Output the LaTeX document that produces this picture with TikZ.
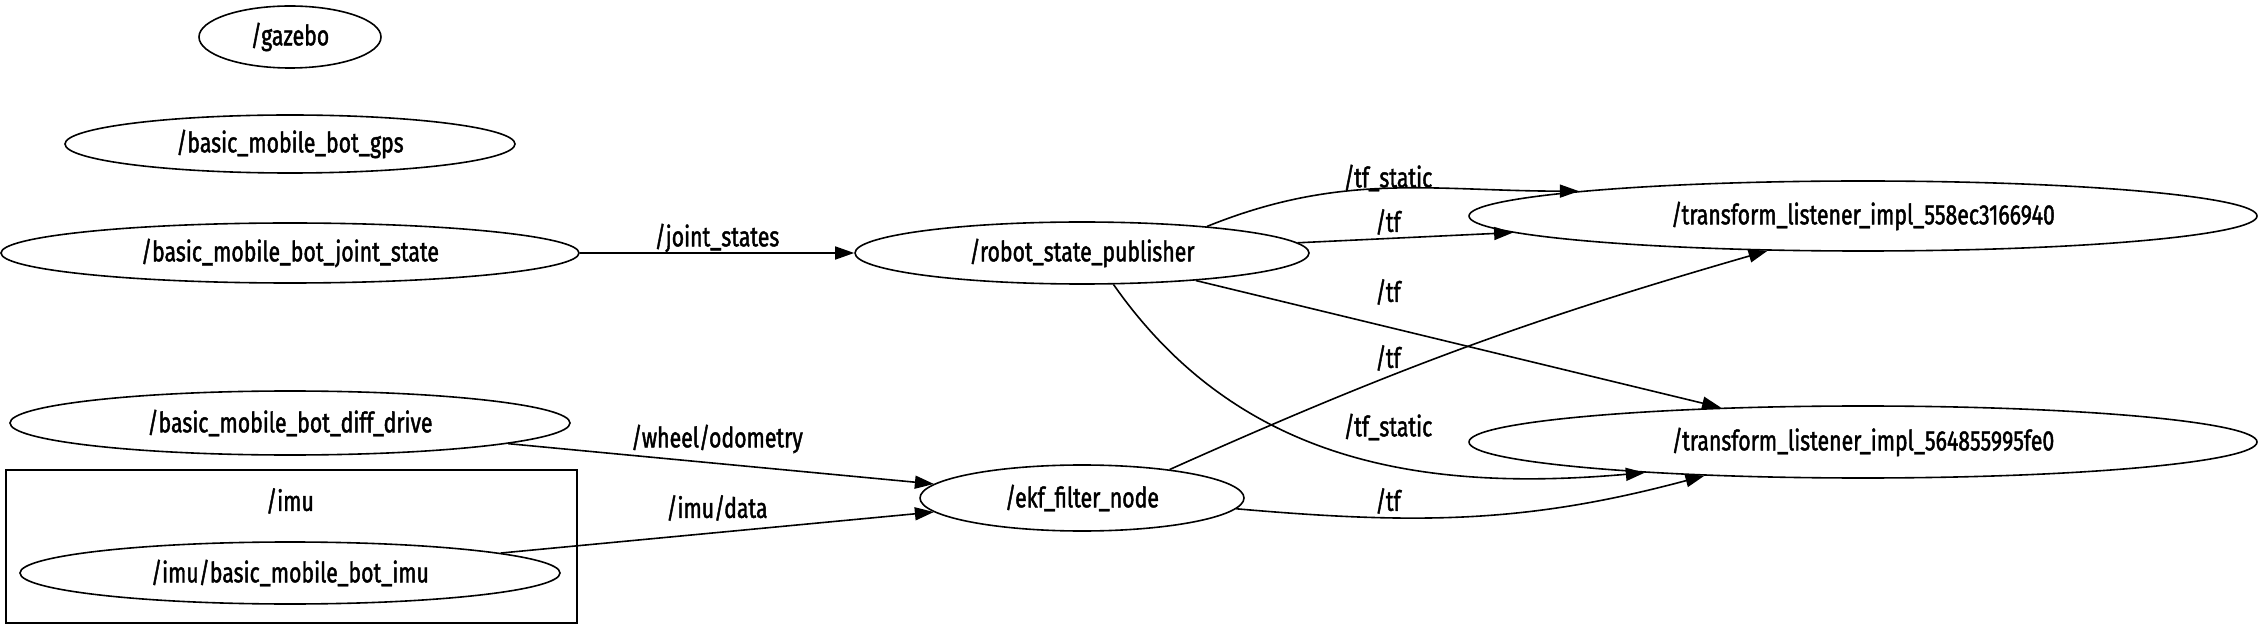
\documentclass[tikz,border=0pt]{standalone}
\usepackage{fontspec}
\setmainfont{Fira Sans}[FakeStretch=0.76,FakeBold=1.5]
\usetikzlibrary{arrows.meta,shapes.geometric}
\tikzset{
  rosnode/.style ={ellipse, draw=black, line width=.8pt, inner sep=0pt,
                   font=\fontsize{14}{16}\selectfont},
  rosbox/.style  ={rectangle, draw=black, line width=.8pt, inner sep=0pt},
  topic/.style   ={font=\fontsize{14}{16}\selectfont, inner sep=0pt},
  arr/.style     ={-{Triangle[length=9.5pt,width=6.5pt]}, draw=black, line width=.8pt},
}
\begin{document}
\begin{tikzpicture}[x=0.5pt,y=0.5pt]
  \useasboundingbox (0,0) rectangle (2263,-625);

  % /imu namespace
  \node[rosbox,minimum width=285.5pt,minimum height=76.5pt] (imubox) at (291.5,-546.5) {};
  \node[topic] (imulbl) at (290,-501) {/imu};

  \node[rosnode,minimum width=91pt,minimum height=31pt]  (gazebo)    at (290,-37)   {/gazebo};
  \node[rosnode,minimum width=225pt,minimum height=29pt] (gps)       at (290,-144)  {/basic\_mobile\_bot\_gps};
  \node[rosnode,minimum width=289pt,minimum height=30pt] (jstate)    at (290,-253)  {/basic\_mobile\_bot\_joint\_state};
  \node[rosnode,minimum width=280pt,minimum height=32pt] (diffdrive) at (290,-423)  {/basic\_mobile\_bot\_diff\_drive};
  \node[rosnode,minimum width=270pt,minimum height=31pt] (imunode)   at (290,-573)  {/imu/basic\_mobile\_bot\_imu};
  \node[rosnode,minimum width=227pt,minimum height=31pt] (rsp)       at (1082,-253) {/robot\_state\_publisher};
  \node[rosnode,minimum width=162pt,minimum height=33pt] (ekf)       at (1082,-498) {/ekf\_filter\_node};
  \node[rosnode,minimum width=394pt,minimum height=35pt] (tlA)       at (1863,-216) {/transform\_listener\_impl\_558ec3166940};
  \node[rosnode,minimum width=394pt,minimum height=36pt] (tlB)       at (1863,-442) {/transform\_listener\_impl\_564855995fe0};

  \foreach \a/\b in {jstate/rsp,diffdrive/ekf,imunode/ekf,rsp/tlA,rsp/tlB}{\draw[arr] (\a) -- (\b);}
  \draw[arr] (rsp.12) to[out=22,in=180] (tlA.175);
  \draw[arr] (rsp.315) to[out=-55,in=185] (tlB.188);
  \draw[arr] (ekf.18) to[bend left=4] (tlA.200);
  \draw[arr] (ekf.356) to[out=-5,in=195] (tlB.192);

  % topic names
  \node[topic] (ljs)   at (717,-238)  {/joint\_states};
  \node[topic] (lodom) at (717,-439)  {/wheel/odometry};
  \node[topic] (limu)  at (717,-508)  {/imu/data};
  \node[topic] (ltsA)  at (1388,-178) {/tf\_static};
  \node[topic] (ltfA)  at (1388,-222) {/tf};
  \node[topic] (ltfB)  at (1388,-292) {/tf};
  \node[topic] (ltfC)  at (1388,-358) {/tf};
  \node[topic] (ltsB)  at (1388,-427) {/tf\_static};
  \node[topic] (ltfD)  at (1388,-501) {/tf};
\end{tikzpicture}
\end{document}
